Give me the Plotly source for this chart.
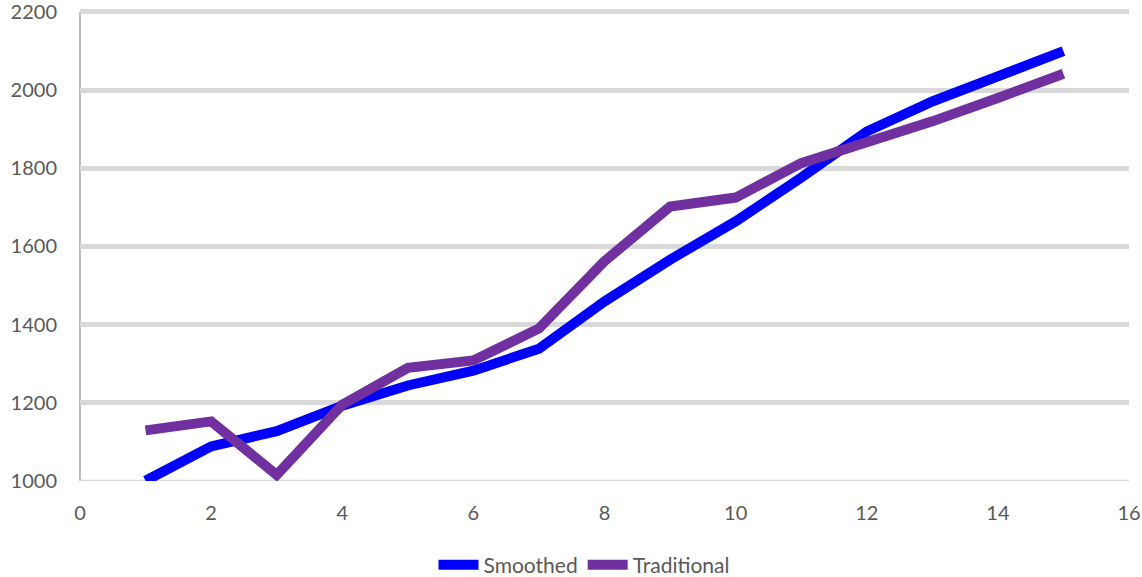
import plotly.graph_objects as go

x_vals = list(range(1, 16))
smoothed = [1000, 1088, 1127, 1192, 1244, 1282, 1338, 1459, 1566, 1664, 1776, 1894, 1971, 2036, 2100]
traditional = [1129, 1152, 1015, 1195, 1289, 1308, 1390, 1562, 1702, 1725, 1813, 1864, 1920, 1980, 2042]
series_names = ["Smoothed", "Traditional"]
series_colors = ["#0000FF", "#7030A0"]
y_ticks = [1000, 1200, 1400, 1600, 1800, 2000, 2200]

fig = go.Figure()
for name, vals, col in zip(series_names, [smoothed, traditional], series_colors):
    fig.add_trace(go.Scatter(x=x_vals, y=vals, mode="lines", name=name,
                             line=dict(color=col, width=10)))

font_fam = "Lato, 'Open Sans', sans-serif"
fig.update_layout(
    width=1142, height=577,
    margin=dict(l=80, r=13, t=10, b=96),
    plot_bgcolor="white", paper_bgcolor="white",
    font=dict(family=font_fam, size=20, color="#595959"),
    showlegend=True,
    legend=dict(orientation="h", x=584 / 1142, xanchor="center", xref="container",
                y=12 / 577, yanchor="middle", yref="container",
                font=dict(size=21, color="#595959"), tracegroupgap=0, itemwidth=40),
    xaxis=dict(range=[0, 16], dtick=2, tick0=0, showgrid=False, zeroline=False, automargin=False,
               showline=False, ticks="outside", ticklen=14, tickcolor="rgba(0,0,0,0)",
               ticklabeloverflow="allow"),
    yaxis=dict(range=[999.5, 2205.1], tickvals=y_ticks, showgrid=True, gridcolor="#D9D9D9",
               gridwidth=5, zeroline=False, showline=False, automargin=False,
               ticks="outside", ticklen=18, tickcolor="rgba(0,0,0,0)",
               ticklabeloverflow="allow"),
)
fig.add_shape(type="line", xref="paper", yref="y", x0=0, x1=1, y0=1000, y1=1000,
              line=dict(color="#D9D9D9", width=2), layer="below")
fig.add_shape(type="line", xref="paper", yref="y", x0=0, x1=0, y0=1000, y1=2200,
              line=dict(color="#BFBFBF", width=2), layer="below")
fig.write_html("out.html", config={"displayModeBar": False},
               post_script="document.body.style.margin='0';")
